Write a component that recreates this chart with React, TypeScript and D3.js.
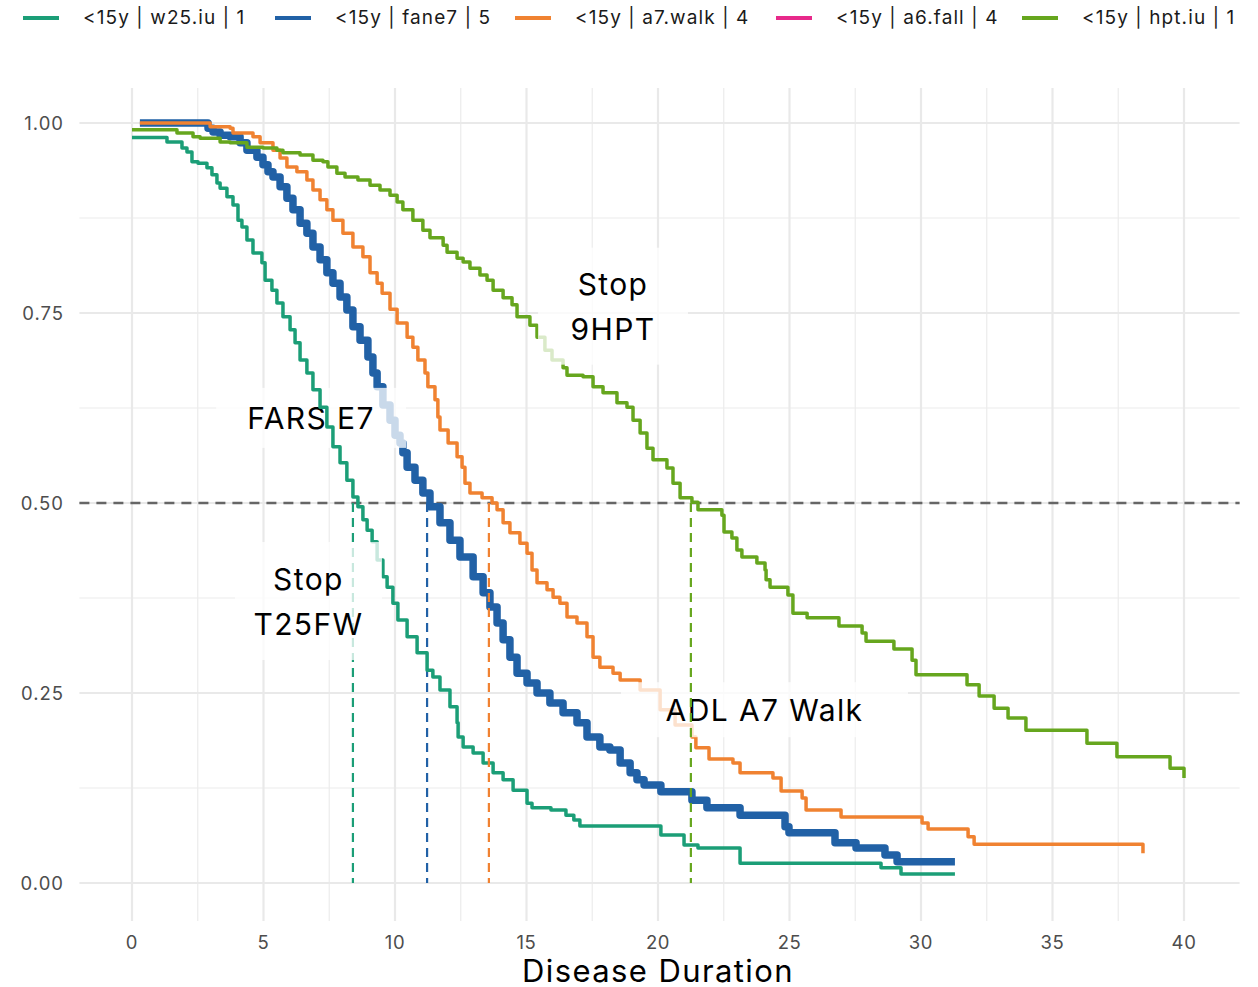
import React from "react";
import * as d3 from "d3";

// ---------- data ----------
const legendLabels = ["<15y | w25.iu | 1", "<15y | fane7 | 5", "<15y | a7.walk | 4", "<15y | a6.fall | 4", "<15y | hpt.iu | 1"];
const seriesColors = ["#1b9e77", "#2161a6", "#f08231", "#e7298a", "#66a61e"];

const w25Time = [0, 1.33, 1.90, 2.09, 2.28, 2.51, 2.85, 3.04, 3.23, 3.35, 3.61, 3.84, 4.03, 4.18, 4.37, 4.60, 4.94, 5.06, 5.32, 5.51, 5.74, 6.01, 6.20, 6.39, 6.65, 6.88, 7.15, 7.41, 7.64, 7.91, 8.17, 8.40, 8.59, 8.78, 8.94, 9.13, 9.32, 9.54, 9.70, 9.92, 10.11, 10.46, 10.84, 11.22, 11.44, 11.71, 12.09, 12.36, 12.40, 12.59, 12.97, 13.35, 13.73, 14.11, 14.49, 15.02, 15.21, 15.93, 16.50, 16.80, 17.03, 20.11, 20.99, 21.52, 23.12, 28.48, 29.24];
const w25Surv = [0.981, 0.975, 0.967, 0.962, 0.949, 0.947, 0.941, 0.932, 0.921, 0.914, 0.903, 0.892, 0.872, 0.863, 0.846, 0.829, 0.816, 0.793, 0.780, 0.763, 0.745, 0.728, 0.711, 0.688, 0.671, 0.649, 0.626, 0.600, 0.574, 0.553, 0.530, 0.508, 0.495, 0.478, 0.464, 0.449, 0.425, 0.403, 0.389, 0.368, 0.346, 0.324, 0.303, 0.280, 0.271, 0.254, 0.232, 0.211, 0.192, 0.179, 0.171, 0.158, 0.145, 0.136, 0.122, 0.105, 0.099, 0.096, 0.089, 0.083, 0.075, 0.063, 0.050, 0.046, 0.026, 0.020, 0.012];
const w25End = 31.29;

const fane7Time = [0.30, 2.89, 3.08, 3.35, 3.73, 4.11, 4.37, 4.75, 4.98, 5.17, 5.36, 5.63, 5.89, 6.12, 6.39, 6.65, 6.88, 7.15, 7.41, 7.64, 7.91, 8.17, 8.40, 8.67, 8.97, 9.16, 9.32, 9.54, 9.81, 10.00, 10.19, 10.30, 10.46, 10.76, 11.06, 11.33, 11.71, 12.09, 12.47, 12.97, 13.35, 13.61, 13.88, 14.11, 14.37, 14.64, 15.02, 15.40, 15.89, 16.39, 16.92, 17.30, 17.79, 18.17, 18.56, 18.94, 19.20, 19.47, 20.11, 21.29, 21.86, 23.12, 24.83, 24.98, 26.73, 27.53, 28.63, 29.09];
const fane7Surv = [1.000, 0.993, 0.988, 0.984, 0.982, 0.974, 0.964, 0.955, 0.945, 0.936, 0.929, 0.916, 0.901, 0.886, 0.868, 0.855, 0.837, 0.820, 0.803, 0.789, 0.771, 0.754, 0.732, 0.714, 0.692, 0.671, 0.653, 0.629, 0.609, 0.589, 0.579, 0.566, 0.547, 0.530, 0.513, 0.495, 0.474, 0.451, 0.429, 0.403, 0.382, 0.363, 0.342, 0.320, 0.297, 0.276, 0.263, 0.250, 0.237, 0.224, 0.211, 0.192, 0.179, 0.175, 0.158, 0.145, 0.136, 0.129, 0.120, 0.109, 0.099, 0.089, 0.074, 0.066, 0.053, 0.046, 0.037, 0.028];
const fane7End = 31.29;

const a7Time = [0.30, 2.97, 3.73, 3.84, 4.60, 4.87, 5.36, 5.63, 5.89, 6.27, 6.65, 6.88, 7.15, 7.41, 7.64, 8.02, 8.40, 8.78, 9.05, 9.32, 9.51, 9.81, 10.08, 10.46, 10.68, 10.87, 11.14, 11.25, 11.52, 11.63, 11.71, 12.02, 12.36, 12.55, 12.66, 12.85, 13.31, 13.69, 13.88, 14.11, 14.37, 14.75, 15.02, 15.21, 15.40, 15.78, 16.01, 16.27, 16.54, 16.92, 17.30, 17.53, 17.79, 18.29, 18.56, 19.32, 20.08, 20.65, 21.29, 21.44, 21.94, 22.85, 23.12, 24.37, 24.68, 25.48, 25.63, 26.96, 30.04, 30.27, 31.79, 32.02, 38.44];
const a7Surv = [1.000, 0.995, 0.993, 0.987, 0.982, 0.974, 0.964, 0.954, 0.942, 0.936, 0.925, 0.912, 0.899, 0.886, 0.872, 0.855, 0.837, 0.824, 0.803, 0.789, 0.776, 0.755, 0.737, 0.718, 0.705, 0.688, 0.671, 0.653, 0.636, 0.613, 0.596, 0.579, 0.561, 0.547, 0.526, 0.513, 0.507, 0.500, 0.491, 0.474, 0.461, 0.447, 0.434, 0.412, 0.395, 0.386, 0.376, 0.368, 0.350, 0.342, 0.324, 0.297, 0.284, 0.276, 0.267, 0.254, 0.228, 0.208, 0.192, 0.178, 0.163, 0.158, 0.145, 0.138, 0.121, 0.112, 0.096, 0.087, 0.079, 0.071, 0.061, 0.051, 0.039];
const a7End = 38.44;

const a6Time: number[] = [];
const a6Surv: number[] = [];
const a6End = 0;

const hptTime = [0, 1.71, 2.32, 2.59, 3.35, 3.73, 4.37, 4.98, 5.51, 5.74, 6.39, 6.88, 7.26, 7.45, 7.79, 8.10, 8.59, 9.05, 9.43, 9.81, 10.08, 10.30, 10.68, 11.06, 11.33, 11.83, 11.98, 12.36, 12.59, 12.85, 13.23, 13.50, 13.73, 14.11, 14.45, 14.64, 15.13, 15.40, 15.70, 15.97, 16.39, 16.54, 17.15, 17.53, 17.91, 18.44, 18.82, 19.05, 19.32, 19.58, 19.81, 20.34, 20.57, 20.84, 21.29, 21.52, 22.43, 22.51, 22.81, 23.00, 23.19, 23.76, 24.07, 24.11, 24.26, 24.94, 25.13, 25.67, 26.88, 27.76, 27.91, 28.97, 29.66, 29.81, 31.75, 32.21, 32.78, 33.31, 33.99, 36.31, 37.45, 39.47, 40.0];
const hptSurv = [0.991, 0.987, 0.982, 0.980, 0.975, 0.974, 0.968, 0.967, 0.964, 0.961, 0.958, 0.951, 0.949, 0.942, 0.934, 0.929, 0.925, 0.918, 0.912, 0.905, 0.896, 0.886, 0.872, 0.859, 0.849, 0.839, 0.830, 0.822, 0.817, 0.809, 0.800, 0.793, 0.780, 0.770, 0.761, 0.745, 0.734, 0.718, 0.701, 0.688, 0.678, 0.668, 0.666, 0.653, 0.645, 0.632, 0.626, 0.609, 0.592, 0.572, 0.557, 0.546, 0.526, 0.507, 0.501, 0.491, 0.484, 0.462, 0.454, 0.438, 0.429, 0.421, 0.412, 0.399, 0.389, 0.379, 0.355, 0.349, 0.338, 0.329, 0.318, 0.308, 0.293, 0.274, 0.261, 0.246, 0.230, 0.217, 0.201, 0.184, 0.166, 0.151, 0.138];
const hptEnd = 40.0;

const medianTimes = [8.40, 11.22, 13.57, null, 21.25];
const curveLabels = [["Stop", "T25FW"], ["FARS E7"], ["ADL A7 Walk"], null, ["Stop", "9HPT"]];
const labelT = [6.71, 6.81, 24.05, 0, 18.29];
const labelS = [0.371, 0.612, 0.228, 0, 0.759];

const xTicks = [0, 5, 10, 15, 20, 25, 30, 35, 40];
const xMinor = [2.5, 7.5, 12.5, 17.5, 22.5, 27.5, 32.5, 37.5];
const yTicks = [0, 0.25, 0.5, 0.75, 1.0];
const yMinor = [0.125, 0.375, 0.625, 0.875];
const xTitle = "Disease Duration";

// ---------- layout/style ----------
const W = 1258, H = 987;
const FONT = "Inter, 'Open Sans', sans-serif";
const panel = { left: 79.4, right: 1236.6, top: 85, bottom: 921 };
const lineWidths = [3.5, 7.5, 3.5, 3.5, 3.5];
const boxSize = [[147, 118], [190, 60], [287, 55], [0, 0], [150, 117]];
const legendX = [23, 275, 515, 776, 1022];
const drawOrder = [1, 0, 2, 3, 4];

const seriesTimes = [w25Time, fane7Time, a7Time, a6Time, hptTime];
const seriesSurv = [w25Surv, fane7Surv, a7Surv, a6Surv, hptSurv];
const seriesEnd = [w25End, fane7End, a7End, a6End, hptEnd];

export default function App() {
  const x = d3.scaleLinear().domain([-2, 42]).range([panel.left, panel.right]);
  const y = d3.scaleLinear().domain([-0.05, 1.05]).range([panel.bottom, panel.top]);
  const line = d3
    .line<[number, number]>()
    .x((d) => x(d[0]))
    .y((d) => y(d[1]))
    .curve(d3.curveStepAfter);

  const paths = seriesTimes.map((ts, i) => {
    if (!ts.length) return null;
    const pts: [number, number][] = ts.map((t, j) => [t, seriesSurv[i][j]]);
    pts.push([seriesEnd[i], seriesSurv[i][seriesSurv[i].length - 1]]);
    return line(pts);
  });

  return (
    <svg width={W} height={H} style={{ position: "absolute", left: 0, top: 0, background: "#fff" }} fontFamily={FONT}>
      <g>
        {xMinor.map((v) => (
          <line key={"xm" + v} x1={x(v)} x2={x(v)} y1={panel.top + 3} y2={panel.bottom} stroke="#ececec" strokeWidth={1.2} />
        ))}
        {yMinor.map((v) => (
          <line key={"ym" + v} x1={panel.left} x2={panel.right + 3} y1={y(v)} y2={y(v)} stroke="#ececec" strokeWidth={1.2} />
        ))}
        {xTicks.map((v) => (
          <line key={"xM" + v} x1={x(v)} x2={x(v)} y1={panel.top + 3} y2={panel.bottom} stroke="#e9e9e9" strokeWidth={2.2} />
        ))}
        {yTicks.map((v) => (
          <line key={"yM" + v} x1={panel.left} x2={panel.right + 3} y1={y(v)} y2={y(v)} stroke="#e9e9e9" strokeWidth={2.2} />
        ))}
      </g>
      <line x1={panel.left} x2={panel.right + 3} y1={y(0.5)} y2={y(0.5)} stroke="#666" strokeWidth={2.4} strokeDasharray="10 7" />

      {drawOrder.map((i) => {
        const lab = curveLabels[i];
        const [bw, bh] = boxSize[i];
        const cx = x(labelT[i]);
        const cy = y(labelS[i]);
        const m = medianTimes[i];
        return (
          <g key={"s" + i}>
            {paths[i] && (
              <path d={paths[i] as string} fill="none" stroke={seriesColors[i]} strokeWidth={lineWidths[i]} strokeLinejoin="round" />
            )}
            {m != null && (
              <line x1={x(m)} x2={x(m)} y1={y(0.5)} y2={y(0)} stroke={seriesColors[i]} strokeWidth={2.2} strokeDasharray="9 6" />
            )}
            {lab && (
              <g>
                <rect x={cx - bw / 2} y={cy - bh / 2} width={bw} height={bh} fill="#fff" fillOpacity={0.76} />
                {lab.map((t, k) => (
                  <text
                    key={k}
                    x={cx}
                    y={cy + (k - (lab.length - 1) / 2) * 45}
                    textAnchor="middle"
                    dominantBaseline="central"
                    fontSize={30}
                    letterSpacing={1.4}
                    fill="#000"
                  >
                    {t}
                  </text>
                ))}
              </g>
            )}
          </g>
        );
      })}

      {yTicks.map((v) => (
        <text key={"yl" + v} x={64} y={y(v)} textAnchor="end" dominantBaseline="central" fontSize={18.5} letterSpacing={1} fill="#4d4d4d">
          {v.toFixed(2)}
        </text>
      ))}
      {xTicks.map((v) => (
        <text key={"xl" + v} x={x(v)} y={942} textAnchor="middle" dominantBaseline="central" fontSize={18.5} letterSpacing={0.6} fill="#4d4d4d">
          {v}
        </text>
      ))}
      <text x={(panel.left + panel.right) / 2} y={970} textAnchor="middle" dominantBaseline="central" fontSize={31} letterSpacing={1.4} fill="#000">
        {xTitle}
      </text>

      {legendLabels.map((l, i) => (
        <g key={"lg" + i}>
          <line x1={legendX[i]} x2={legendX[i] + 36} y1={18} y2={18} stroke={seriesColors[i]} strokeWidth={4} />
          <text x={legendX[i] + 60} y={17} dominantBaseline="central" fontSize={19} letterSpacing={1.1} fill="#1a1a1a">
            {l}
          </text>
        </g>
      ))}
    </svg>
  );
}
